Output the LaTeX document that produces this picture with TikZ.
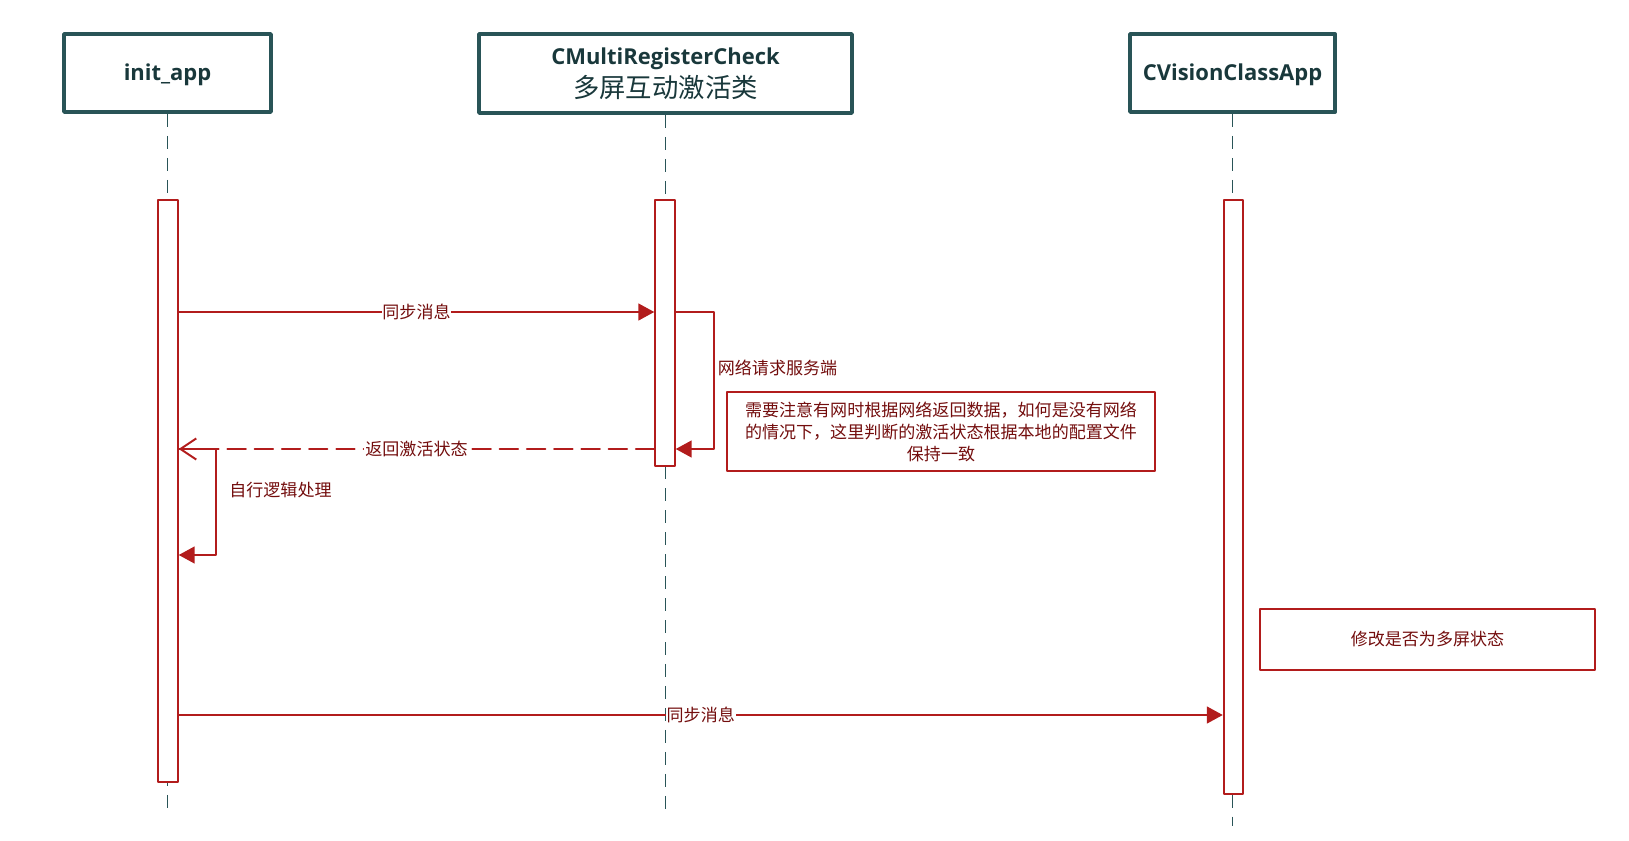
\documentclass[tikz,border=0pt]{standalone}
\usepackage{fontspec}
\setmainfont{Open Sans}
\newfontfamily\cjk{Noto Sans CJK SC}
\usepackage{tikz}
\usetikzlibrary{arrows.meta}
\definecolor{qqttss}{rgb}{0.16,0.33,0.34}
\definecolor{qqhhhh}{rgb}{0.10,0.22,0.23}
\definecolor{bbcccc}{rgb}{0.70,0.11,0.11}
\definecolor{ttqqqq}{rgb}{0.45,0.05,0.05}
\tikzstyle{every node}=[font=\cjk\fontsize{9.7}{12.5}\selectfont,text=ttqqqq]
\tikzstyle{head}=[draw=qqttss,line width=2.2pt,text=qqhhhh,align=center,inner sep=0pt,font=\bfseries\fontsize{12.5}{16}\selectfont]
\tikzstyle{lifeline}=[draw=qqttss,line width=1.1pt,dash pattern=on 7.5pt off 5pt]
\tikzstyle{actbar}=[draw=bbcccc,fill=white,line width=1.1pt,inner sep=0pt,minimum width=0.39cm]
\tikzstyle{msg}=[draw=bbcccc,line width=1.1pt,-{Triangle[length=9pt,width=9.5pt]}]
\tikzstyle{reply}=[draw=bbcccc,line width=1.1pt,dash pattern=on 10.5pt off 5pt,-{Straight Barb[length=9pt,width=12pt]}]
\tikzstyle{msglabel}=[fill=white,inner sep=0.5pt]
\tikzstyle{notebox}=[draw=bbcccc,line width=1.1pt,align=center,inner sep=0pt]

\begin{document}
\begin{tikzpicture}[line cap=round,line join=round,x=0.02cm,y=-0.02cm]
                \useasboundingbox (0,0) rectangle (1629,841);
                \node [head,minimum width=4.14cm,minimum height=1.56cm] (initapp) at (167.5,73) {\raisebox{-4.5pt}[0pt][0pt]{init\_app}};
                \node [head,minimum width=7.46cm,minimum height=1.58cm] (regcheck) at (665.5,73.5) {\raisebox{1pt}{CMultiRegisterCheck}\\[2pt]{\cjk\mdseries\fontsize{15}{17}\selectfont 多屏互动激活类}};
                \node [head,minimum width=4.10cm,minimum height=1.56cm] (visionapp) at (1232.5,73) {\raisebox{-4.5pt}[0pt][0pt]{CVisionClassApp}};
                \coordinate (initend) at (167.5,810);
                \coordinate (regend) at (665.5,810);
                \coordinate (visionend) at (1232.5,826);
                \draw [lifeline,line cap=butt] (initapp.south) -- (initend);
                \draw [lifeline,line cap=butt] (regcheck.south) -- (regend);
                \draw [lifeline,line cap=butt] (visionapp.south) -- (visionend);
                \node [actbar,minimum height=11.64cm] (initbar) at (168,491) {};
                \node [actbar,minimum height=5.32cm] (regbar) at (665,333) {};
                \node [actbar,minimum height=11.88cm] (visionbar) at (1233.5,497) {};
                \coordinate (ysync) at (0,312);
                \coordinate (yback) at (0,449);
                \coordinate (yself) at (0,555);
                \coordinate (ycall) at (0,715);
                \coordinate (netloop) at (714,368);
                \coordinate (selfloop) at (216,490);
                \draw [msg] (initbar.east |- ysync) -- (regbar.west |- ysync) node [midway,msglabel] (sync1) {同步消息};
                \draw [msg] (regbar.east |- ysync) -| (netloop) |- (regbar.east |- yback);
                \node [anchor=west,inner sep=2pt] (netlabel) at (netloop) {网络请求服务端};
                \draw [reply] (regbar.west |- yback) -- (initbar.east |- yback) node [midway,msglabel] (back1) {返回激活状态};
                \node [notebox,minimum width=8.56cm,minimum height=1.58cm] (note1) at (941,431.5) {需要注意有网时根据网络返回数据，如何是没有网络\\的情况下，这里判断的激活状态根据本地的配置文件\\保持一致};
                \draw [msg] (initbar.east |- yback) -| (selfloop) |- (initbar.east |- yself);
                \node [anchor=west,inner sep=0pt,xshift=13*0.02cm] (selflabel) at (selfloop) {自行逻辑处理};
                \node [notebox,minimum width=6.7cm,minimum height=1.22cm] (note2) at (1427.5,639.5) {修改是否为多屏状态};
                \draw [msg] (initbar.east |- ycall) -- (visionbar.west |- ycall) node [midway,msglabel] (sync2) {同步消息};
\end{tikzpicture}
\end{document}
